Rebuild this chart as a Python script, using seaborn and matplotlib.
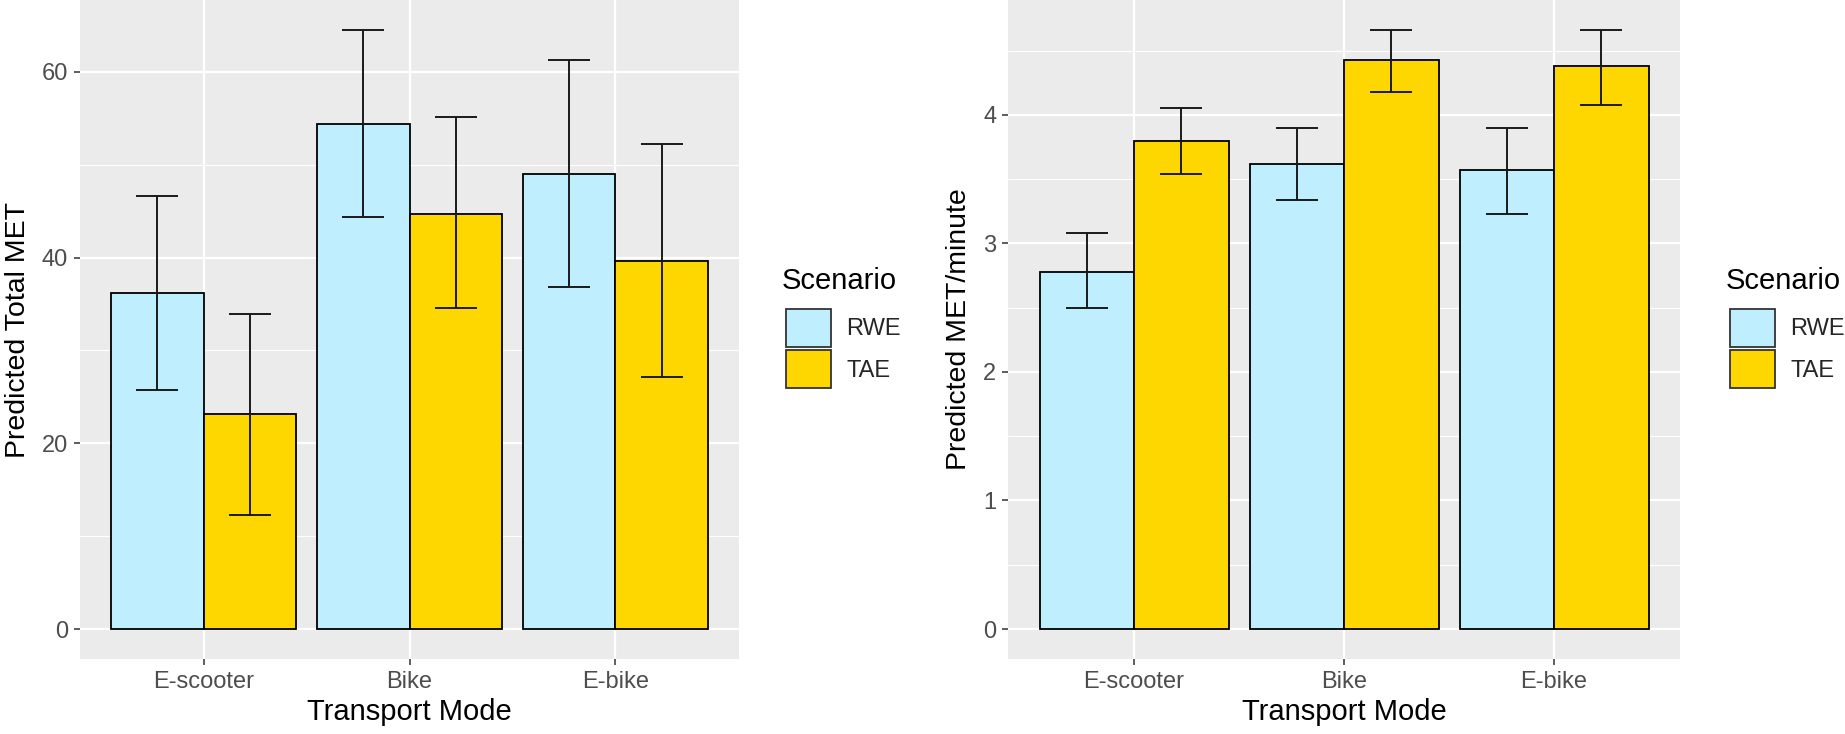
import pandas as pd
import matplotlib
matplotlib.use("Agg")
import matplotlib.pyplot as plt
import seaborn as sns
from matplotlib.patches import Patch
from matplotlib.ticker import MultipleLocator

# values
modes = ["E-scooter", "Bike", "E-bike"]
scenarios = ["RWE", "TAE"]

total_rwe = [36.2, 54.4, 49.0]
total_rwe_lo = [25.7, 44.4, 36.8]
total_rwe_hi = [46.6, 64.5, 61.3]
total_tae = [23.1, 44.7, 39.6]
total_tae_lo = [12.3, 34.6, 27.1]
total_tae_hi = [33.9, 55.1, 52.2]

rate_rwe = [2.78, 3.62, 3.57]
rate_rwe_lo = [2.50, 3.34, 3.23]
rate_rwe_hi = [3.08, 3.90, 3.90]
rate_tae = [3.80, 4.43, 4.38]
rate_tae_lo = [3.54, 4.18, 4.08]
rate_tae_hi = [4.05, 4.66, 4.66]

colors = {"RWE": "#BFEFFF", "TAE": "#FFD700"}


def make_df(rwe, rwe_lo, rwe_hi, tae, tae_lo, tae_hi):
    rows = []
    for i, m in enumerate(modes):
        rows.append({"mode": m, "scenario": "RWE", "value": rwe[i], "lo": rwe_lo[i], "hi": rwe_hi[i]})
        rows.append({"mode": m, "scenario": "TAE", "value": tae[i], "lo": tae_lo[i], "hi": tae_hi[i]})
    return pd.DataFrame(rows)


df_total = make_df(total_rwe, total_rwe_lo, total_rwe_hi, total_tae, total_tae_lo, total_tae_hi)
df_rate = make_df(rate_rwe, rate_rwe_lo, rate_rwe_hi, rate_tae, rate_tae_lo, rate_tae_hi)

sns.set_theme(style="darkgrid")
plt.rcParams["font.family"] = ["Liberation Sans", "DejaVu Sans"]

W, H = 1845, 734
fig = plt.figure(figsize=(W / 100, H / 100), dpi=100)
ax1 = fig.add_axes([80 / W, 1 - 659 / H, 659 / W, 659 / H])
ax2 = fig.add_axes([1008 / W, 1 - 659 / H, 672 / W, 659 / H])


def draw(ax, df, ylabel, major, minor, legend_x):
    ax.set_facecolor("#EBEBEB")
    sns.barplot(data=df, x="mode", y="value", hue="scenario", order=modes,
                hue_order=scenarios, palette=colors, width=0.9, gap=0,
                errorbar=None, edgecolor="black", linewidth=1.3, ax=ax,
                legend=False, saturation=1)
    for cont, sc in zip(ax.containers, scenarios):
        sub = df[df.scenario == sc].set_index("mode").loc[modes]
        xs = [p.get_x() + p.get_width() / 2 for p in cont]
        ax.errorbar(xs, sub["value"],
                    yerr=[sub["value"] - sub["lo"], sub["hi"] - sub["value"]],
                    fmt="none", ecolor="#1A1A1A", elinewidth=1.4,
                    capsize=15, capthick=1.4, zorder=5)
    top = df["hi"].max()
    ax.set_ylim(-0.05 * top, 1.05 * top)
    ax.set_xlim(-0.6, 2.6)
    ax.yaxis.set_major_locator(MultipleLocator(major))
    ax.yaxis.set_minor_locator(MultipleLocator(minor))
    ax.grid(which="major", color="white", linewidth=1.6)
    ax.grid(which="minor", axis="y", color="white", linewidth=0.8)
    ax.set_axisbelow(True)
    for s in ax.spines.values():
        s.set_visible(False)
    ax.tick_params(which="major", bottom=True, left=True, length=4.5, width=1.1,
                   color="#333333", labelcolor="#4D4D4D", labelsize=17, pad=4)
    ax.tick_params(which="minor", length=0)
    ax.set_xlabel("Transport Mode", fontsize=21, color="black", labelpad=4)
    ax.set_ylabel(ylabel, fontsize=20.5, color="black", labelpad=8)

    # ggplot-like legend: title drawn separately, square keys stacked tight
    fig.text(legend_x / W, 1 - 289 / H, "Scenario", fontsize=21,
             color="black", ha="left", va="baseline")
    handles = [Patch(facecolor=colors[s], edgecolor="#333333", linewidth=1.3, label=s)
               for s in scenarios]
    ax.legend(handles=handles, loc="upper left",
              bbox_to_anchor=((legend_x + 4) / W, 1 - 309 / H),
              bbox_transform=fig.transFigure, frameon=False,
              fontsize=17, handlelength=1.9, handleheight=2.08,
              labelspacing=0.15, handletextpad=0.65,
              borderpad=0, borderaxespad=0)


draw(ax1, df_total, "Predicted Total MET", 20, 10, 782)
draw(ax2, df_rate, "Predicted MET/minute", 1, 0.5, 1726)

fig.savefig("out.png", dpi=100)
